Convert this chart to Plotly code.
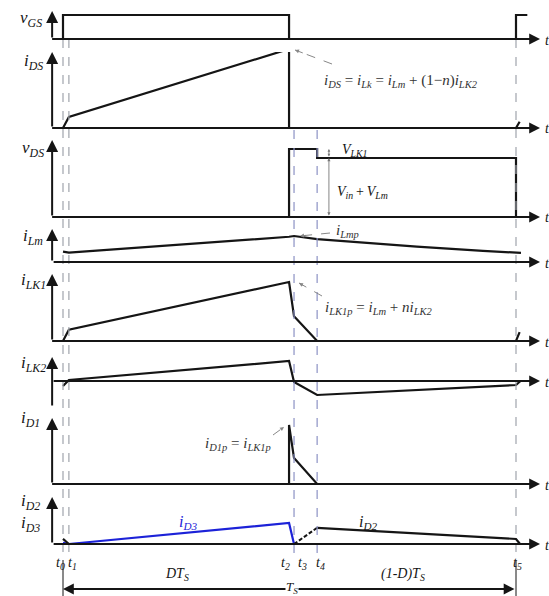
import plotly.graph_objects as go

W, H = 549, 596

# ---- time instants (normalized to Ts) ----
t0, t1, t2, t3, t4, t5 = 0.0, 0.013, 0.499, 0.510, 0.561, 1.0
t_axis = -0.024      # position of the vertical (signal) axes
t_arrow_end = 1.053  # end of the time axes
t_next = 1.008       # start of next switching cycle

time_labels = ["t<sub>0</sub>", "t<sub>1</sub>", "t<sub>2</sub>", "t<sub>3</sub>", "t<sub>4</sub>", "t<sub>5</sub>"]

# ---- waveforms (normalized units) ----
vgs_t = [t_axis, t0, t0, t2, t2, t5, t5, 1.025]
vgs_v = [0, 0, 1, 1, 0, 0, 1, 1]

ids_t = [t_axis, t0, t1, t2, t2, t5, t_next]
ids_v = [0, 0, 0.14, 1.0, 0, 0, 0.08]

vds_t = [t_axis, t2, t2, t4, t4, t5, t5]
vds_v = [0, 0, 1.0, 1.0, 0.868, 0.868, 0]

ilm_t = [t0, t1, t2, t3, t4, 0.634, 0.781, 0.927, t5, 1.011]
ilm_v = [0.40, 0.36, 0.97, 1.0, 0.88, 0.78, 0.59, 0.43, 0.38, 0.35]

ilk1_t = [t_axis, t0, t1, t2, t3, t4, t5, t_next]
ilk1_v = [0, 0, 0.19, 1.0, 0.42, 0, 0, 0.15]

ilk2_t = [t0, t1, t2, t3, t4, t5, 1.01]
ilk2_v = [-0.25, 0.05, 1.0, -0.05, -0.7, -0.2, 0.0]

id1_t = [t_axis, t2, t2, t3, t4, t5]
id1_v = [0, 0, 1.0, 0.44, 0, 0]

id3_t = [t0, t1, t2, t3]
id3_v = [0.05, 0, 1.0, 0]
id3_zero_t = [t3, 1.01]
id3_zero_v = [0, 0]

id2_start_t = [t0, t1]
id2_start_v = [0.24, 0]
id2_rise_t = [t3, t4]
id2_rise_v = [0, 0.77]
id2_t = [t4, t5, 1.009]
id2_v = [0.77, 0.24, 0]

# ---- panel layout: (axis id, label, baseline px, px per unit, top px, bottom px) ----
panels = [
    ("y",  "<i>v</i><sub><i>GS</i></sub>",  39, 24, 11, 43),
    ("y2", "<i>i</i><sub><i>DS</i></sub>",  128, 79, 52, 132),
    ("y3", "<i>v</i><sub><i>DS</i></sub>",  217, 68, 140, 221),
    ("y4", "<i>i</i><sub><i>Lm</i></sub>",  262, 26, 229, 266),
    ("y5", "<i>i</i><sub><i>LK1</i></sub>", 341, 59, 274, 345),
    ("y6", "<i>i</i><sub><i>LK2</i></sub>", 381, 20, 357, 407),
    ("y7", "<i>i</i><sub><i>D1</i></sub>",  484, 59, 418, 488),
    ("y8", "<i>i</i><sub><i>D2</i></sub><br><i>i</i><sub><i>D3</i></sub>", 544, 21, 497, 548),
]
label_pos = [(31, 19), (33, 62), (33, 149), (33, 237), (33, 281), (33, 364), (30, 419), (30, 513)]

def X(px):
    return px / W

def Y(py):
    return 1 - py / H

BLACK = "#151515"
BLUE = "#1c22d8"
GRAY = "#a0a4ac"
BGRAY = "#8c92c4"
FONT = "Liberation Serif"

fig = go.Figure()

def add(tx, vy, yax, color=BLACK, width=2.2, dash="solid"):
    fig.add_trace(go.Scatter(x=tx, y=vy, yaxis=yax, mode="lines",
                             line=dict(color=color, width=width, dash=dash),
                             hoverinfo="skip", showlegend=False))

add(vgs_t, vgs_v, "y")
add(ids_t, ids_v, "y2")
add(vds_t, vds_v, "y3")
add(ilm_t, ilm_v, "y4")
add(ilk1_t, ilk1_v, "y5")
add(ilk2_t, ilk2_v, "y6")
add(id1_t, id1_v, "y7")
add(id3_zero_t, id3_zero_v, "y8", color=BLUE, width=2.0, dash="8px,4px")
add(id3_t, id3_v, "y8", color=BLUE, width=2.2)
add(id2_start_t, id2_start_v, "y8")
add(id2_rise_t, id2_rise_v, "y8", width=2.0, dash="4px,2px")
add(id2_t, id2_v, "y8")

layout = dict(
    width=W, height=H, autosize=False,
    margin=dict(l=0, r=0, t=0, b=0),
    paper_bgcolor="white", plot_bgcolor="rgba(0,0,0,0)",
    xaxis=dict(range=[-63 / 453, (W - 63) / 453], visible=False, domain=[0, 1], fixedrange=True),
    showlegend=False,
)

annotations = []
shapes = []

def text(px, py, txt, size=14, color=BLACK, xanchor="center", **kw):
    annotations.append(dict(x=X(px), y=Y(py), xref="paper", yref="paper", text=txt,
                            showarrow=False, xanchor=xanchor, yanchor="middle",
                            font=dict(family=FONT, size=size, color=color), **kw))

for (yid, label, b, s, top, bot), (lx, ly) in zip(panels, label_pos):
    key = "yaxis" if yid == "y" else "yaxis" + yid[1:]
    rmin = -(bot - b) / s
    rmax = (b - top) / s
    layout[key] = dict(domain=[Y(bot), Y(top)], range=[rmin, rmax], visible=False,
                       anchor="x", fixedrange=True)
    # signal (vertical) axis with arrowhead
    ystart = rmin if yid == "y6" else 0
    annotations.append(dict(x=t_axis, y=rmax, ax=t_axis, ay=ystart, xref="x", yref=yid,
                            axref="x", ayref=yid, text="", showarrow=True,
                            arrowhead=2, arrowsize=1.2, arrowwidth=2, arrowcolor=BLACK))
    # time axis with arrowhead
    annotations.append(dict(x=t_arrow_end, y=0, ax=t_axis, ay=0, xref="x", yref=yid,
                            axref="x", ayref=yid, text="", showarrow=True,
                            arrowhead=2, arrowsize=1.2, arrowwidth=1.8, arrowcolor=BLACK))
    text(543, b + 1, "<i>t</i>", size=14, xanchor="left")
    text(lx, ly, label, size=17)

# ---- dashed guide lines ----
for tv, ytop, col in [(t0, 39, GRAY), (t1, 39, GRAY), (t3, 130, BGRAY), (t4, 130, BGRAY), (t5, 39, GRAY)]:
    shapes.append(dict(type="line", xref="x", yref="paper", x0=tv, x1=tv, y0=Y(ytop), y1=Y(557),
                       line=dict(color=col, width=1.2, dash="dash")))

# ---- Ts dimension ----
for tv in (t0, t5):
    shapes.append(dict(type="line", xref="x", yref="paper", x0=tv, x1=tv, y0=Y(560), y1=Y(596),
                       line=dict(color=BLACK, width=1)))
annotations.append(dict(x=t0, y=Y(589), ax=t5, ay=0, xref="x", yref="paper", axref="x", ayref="pixel",
                        text="", showarrow=True, arrowhead=2, arrowsize=1.2, arrowwidth=1.8,
                        arrowside="end+start", arrowcolor=BLACK))
text(292, 587, "<i>T</i><sub><i>S</i></sub>", size=13, bgcolor="white", borderpad=0)

# ---- time labels ----
for txt, px in zip(time_labels, [60, 72, 285, 302, 320, 517]):
    text(px, 563, "<i>" + txt + "</i>", size=14)
text(177, 574, "<i>DT</i><sub><i>S</i></sub>", size=14)
text(403, 574, "<i>(1-D)T</i><sub><i>S</i></sub>", size=14)

# ---- vDS voltage arrows ----
t_v = 0.587
annotations.append(dict(x=t_v, y=0.868, ax=t_v, ay=0, xref="x", yref="y3", axref="x", ayref="y3",
                        text="", showarrow=True, arrowhead=2, arrowsize=0.7, arrowwidth=0.9,
                        arrowside="end+start", arrowcolor="#777"))
annotations.append(dict(x=t_v, y=1.0, ax=t_v, ay=0.868, xref="x", yref="y3", axref="x", ayref="y3",
                        text="", showarrow=True, arrowhead=2, arrowsize=0.6, arrowwidth=0.9,
                        arrowside="end+start", arrowcolor="#777"))
text(340, 150, "<i>V</i><sub><i>LK1</i></sub>", size=14, xanchor="left")
text(335, 192, "<i>V</i><sub><i>in</i></sub>\u2009+\u2009<i>V</i><sub><i>Lm</i></sub>", size=14, xanchor="left")

# ---- callout formulas with dashed leader lines ----
TXT = "#333"
callouts = [
    # (text, text x px left, text y px, leader start px, leader end px)
    ("<i>i</i><sub><i>DS</i></sub> = <i>i</i><sub><i>Lk</i></sub> = <i>i</i><sub><i>Lm</i></sub> + (1−<i>n</i>)<i>i</i><sub><i>LK2</i></sub>",
     322, 81, (332, 64), (295, 50)),
    ("<i>i</i><sub><i>Lmp</i></sub>", 334, 231, (330, 233), (300, 236)),
    ("<i>i</i><sub><i>LK1p</i></sub> = <i>i</i><sub><i>Lm</i></sub> + <i>ni</i><sub><i>LK2</i></sub>",
     323, 308, (322, 296), (299, 283)),
    ("<i>i</i><sub><i>D1p</i></sub> = <i>i</i><sub><i>LK1p</i></sub>", 203, 444, (273, 435), (284, 427)),
]
for txt, tx, ty, (sx, sy), (ex, ey) in callouts:
    text(tx, ty, txt, size=15, color=TXT, xanchor="left")
    shapes.append(dict(type="line", xref="paper", yref="paper", x0=X(sx), y0=Y(sy), x1=X(ex), y1=Y(ey),
                       line=dict(color="#888", width=1, dash="dash")))
    annotations.append(dict(x=X(ex), y=Y(ey), ax=(sx - ex) * 0.25, ay=(sy - ey) * 0.25,
                            xref="paper", yref="paper", text="",
                            showarrow=True, arrowhead=2, arrowsize=0.8, arrowwidth=1, arrowcolor="#888"))

text(188, 522, "<i>i</i><sub><i>D3</i></sub>", size=16, color=BLUE)
text(368, 522, "<i>i</i><sub><i>D2</i></sub>", size=16, color=BLACK)

layout["annotations"] = annotations
layout["shapes"] = shapes
fig.update_layout(**layout)

fig.write_html("out.html", config={"displayModeBar": False, "staticPlot": True},
               post_script="document.body.style.margin='0';document.body.style.overflow='hidden';")
